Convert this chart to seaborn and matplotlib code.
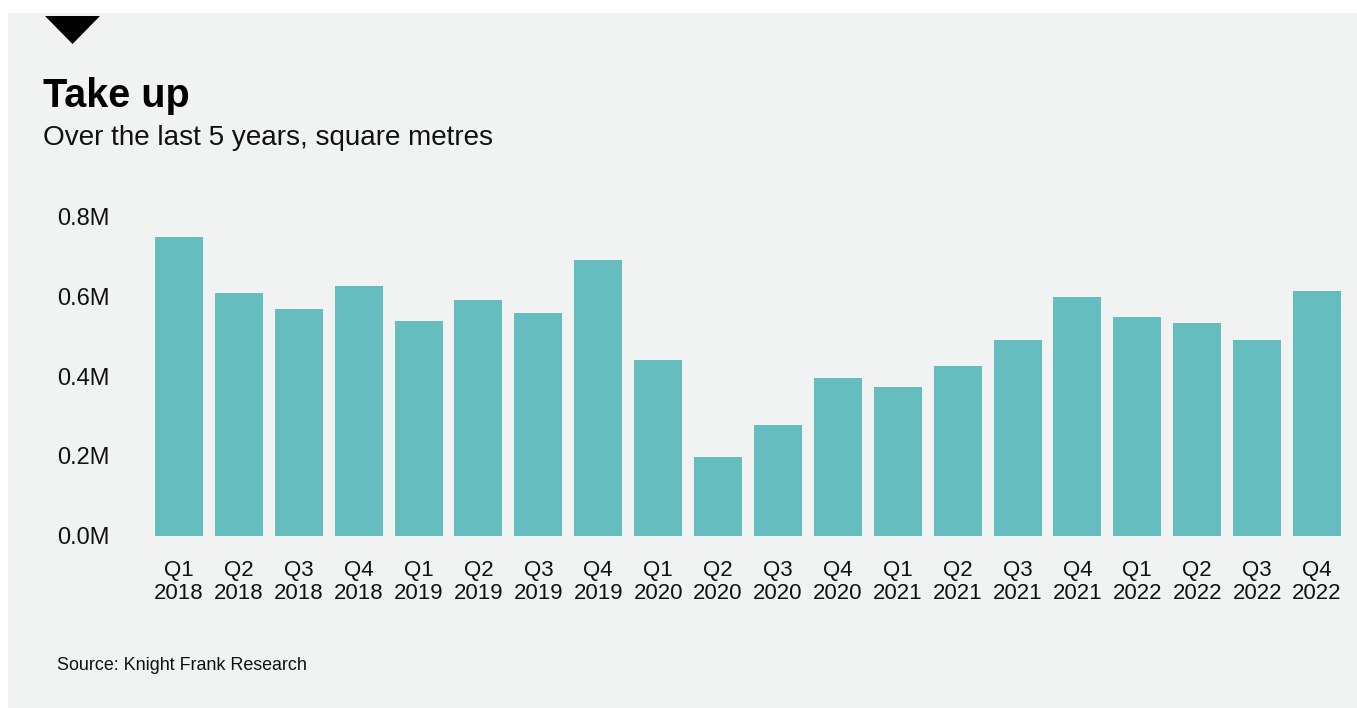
import numpy as np
import pandas as pd
import matplotlib.pyplot as plt
import matplotlib.patches as mpatches
import seaborn as sns

# data (million square metres)
quarters = ['Q1', 'Q2', 'Q3', 'Q4'] * 5
years = [y for y in ['2018', '2019', '2020', '2021', '2022'] for _ in range(4)]
take_up = [0.751, 0.608, 0.568, 0.626,
           0.538, 0.591, 0.558, 0.691,
           0.440, 0.196, 0.277, 0.395,
           0.373, 0.425, 0.491, 0.600,
           0.550, 0.535, 0.492, 0.615]
y_ticks = [0.0, 0.2, 0.4, 0.6, 0.8]

df = pd.DataFrame({'period': [f'{q}\n{y}' for q, y in zip(quarters, years)],
                   'value': take_up})

bg = '#f0f3f2'
bar_color = '#66bdbf'

sns.set_theme(style='white')
plt.rcParams['font.family'] = ['Liberation Sans', 'DejaVu Sans']

fig = plt.figure(figsize=(13.57, 7.08), dpi=100)
fig.patch.set_facecolor('white')
W, H = 1357, 708

# grey panel and the little triangle marker
fig.patches.append(mpatches.Rectangle((8 / W, 0), 1 - 8 / W, 1 - 13 / H,
                                      transform=fig.transFigure, facecolor=bg,
                                      edgecolor='none', zorder=-5))
fig.patches.append(mpatches.Polygon([[45 / W, 1 - 16 / H], [100 / W, 1 - 16 / H],
                                     [72.5 / W, 1 - 44 / H]], closed=True,
                                    transform=fig.transFigure, facecolor='black',
                                    edgecolor='none', zorder=1))

ax = fig.add_axes([155 / W, 1 - 535.5 / H, (1341 - 155) / W, (535.5 - 217) / H])
ax.set_zorder(2)
ax.set_facecolor(bg)
sns.barplot(data=df, x='period', y='value', color=bar_color, width=0.8,
            saturation=1, linewidth=0, edgecolor='none', ax=ax)

ax.set_ylim(0, 0.8)
ax.set_xlim(-0.4, len(df) - 0.6)
ax.set_yticks(y_ticks)
ax.set_yticklabels([f'{v:.1f}M' for v in y_ticks], fontsize=17, color='#111111')
ax.tick_params(axis='y', length=0, pad=32.4)
ax.tick_params(axis='x', length=0, pad=17.6, labelsize=16, labelcolor='#111111')
for lbl in ax.get_xticklabels():
    lbl.set_linespacing(1.1)
ax.set_xlabel('')
ax.set_ylabel('')
sns.despine(ax=ax, left=True, bottom=True)

fig.text(43 / W, 1 - 107 / H, 'Take up', fontsize=28.5, fontweight='bold',
         color='black', ha='left', va='baseline')
fig.text(43 / W, 1 - 145 / H, 'Over the last 5 years, square metres', fontsize=20.1,
         color='#111111', ha='left', va='baseline')
fig.text(57 / W, 1 - 670.5 / H, 'Source: Knight Frank Research', fontsize=12.9,
         color='#111111', ha='left', va='baseline')

fig.savefig('out.png', dpi=100, facecolor=fig.get_facecolor())
